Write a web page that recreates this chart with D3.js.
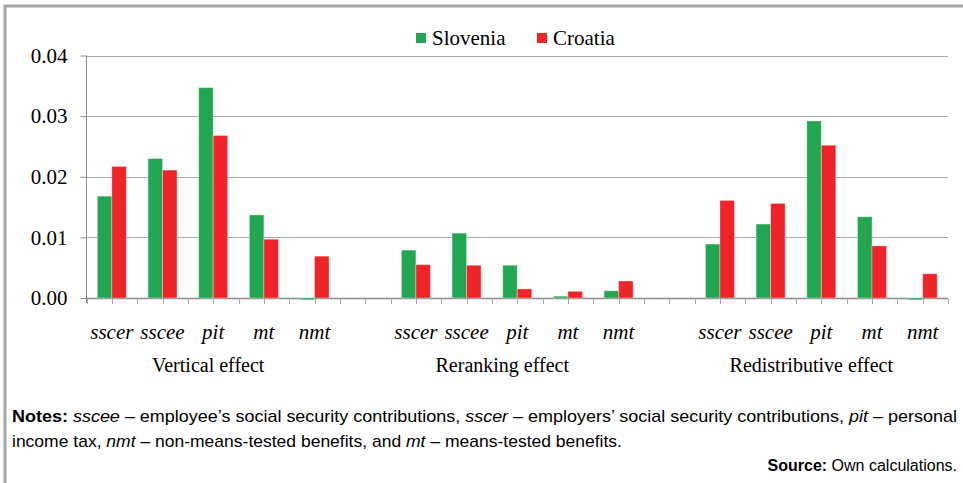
<!DOCTYPE html>
<html>
<head>
<meta charset="utf-8">
<script src="https://cdn.jsdelivr.net/npm/d3@7"></script>
<style>
  body { margin: 0; background: #fff; }
  svg { display: block; }
  .serif { font-family: "Liberation Serif", "Times New Roman", serif; }
  .sans { font-family: "Liberation Sans", Arial, sans-serif; }
</style>
</head>
<body>
<div class="chart"></div>
<script>
// data
var groups = ['Vertical effect', 'Reranking effect', 'Redistributive effect'];
var items = ['sscer', 'sscee', 'pit', 'mt', 'nmt'];
var series = ['Slovenia', 'Croatia'];
var slovenia = [0.0168, 0.0230, 0.0347, 0.0137, -0.0003,
                0.0079, 0.0107, 0.0054, 0.0003, 0.0012,
                0.0089, 0.0122, 0.0292, 0.0134, -0.0003];
var croatia  = [0.0217, 0.0211, 0.0268, 0.0097, 0.0069,
                0.0055, 0.0054, 0.0015, 0.0011, 0.0028,
                0.0161, 0.0156, 0.0252, 0.0086, 0.0040];
var yTicks = [0, 0.01, 0.02, 0.03, 0.04];

var colors = { Slovenia: '#22a651', Croatia: '#ee2428' };

var W = 963, H = 483;
var svg = d3.select('.chart')
  .append('svg')
  .attr('width', W)
  .attr('height', H);

// frame: top and left border
svg.append('path')
  .attr('d', 'M5,' + H + ' V6 H' + W)
  .style('fill', 'none')
  .style('stroke', '#a6a6a6')
  .style('stroke-width', 3);

// 17 slots: 5 items per group with one empty slot between groups
var slots = [];
groups.forEach((g, gi) => {
  items.forEach(it => slots.push(g + '|' + it));
  if (gi < groups.length - 1) slots.push('gap' + gi);
});

var rows = [];
groups.forEach((g, gi) => {
  items.forEach((it, ii) => {
    var k = gi * items.length + ii;
    rows.push({ key: g + '|' + it, item: it, Slovenia: slovenia[k], Croatia: croatia[k] });
  });
});

var xScale = d3.scaleBand().domain(slots).range([86.5, 948]).padding(0);
var bw = xScale.bandwidth();
var pairW = 29;
var sub = d3.scaleBand().domain(series).range([-pairW / 2, pairW / 2]);

var yScale = d3.scaleLinear().domain([0, 0.04]).range([298, 55.5]);

// y axis ticks + labels
var yAxis = svg.append('g')
  .attr('transform', 'translate(86.5,0)')
  .call(d3.axisLeft(yScale).tickValues(yTicks).tickFormat(d3.format('.2f')).tickSize(6).tickPadding(13))
  .attr('font-family', null)
  .attr('font-size', null);
yAxis.select('.domain').remove();
yAxis.selectAll('line').style('stroke', '#8c8c8c');
yAxis.selectAll('text')
  .attr('class', 'serif')
  .style('font-size', '21px')
  .style('fill', '#000');

// gridlines
svg.append('g')
  .selectAll('line')
  .data(yTicks.filter(d => d > 0))
  .enter()
  .append('line')
  .attr('x1', 86.5)
  .attr('x2', 948)
  .attr('y1', d => Math.round(yScale(d)) + 0.5)
  .attr('y2', d => Math.round(yScale(d)) + 0.5)
  .style('stroke', '#a8a8a8')
  .style('stroke-width', 1.2);

svg.append('line')
  .attr('x1', 86.5).attr('x2', 86.5)
  .attr('y1', yScale(0.04)).attr('y2', 303)
  .style('stroke', '#8c8c8c');

// x axis line and ticks at every half slot
svg.append('line')
  .attr('x1', 86.5).attr('x2', 948)
  .attr('y1', 298.5).attr('y2', 298.5)
  .style('stroke', '#8c8c8c')
  .style('stroke-width', 1.3);

var halfTicks = d3.range(slots.length * 2 + 1).map(i => 86.5 + i * bw / 2);
svg.append('g')
  .selectAll('line')
  .data(halfTicks)
  .enter()
  .append('line')
  .attr('x1', d => Math.round(d) + 0.5)
  .attr('x2', d => Math.round(d) + 0.5)
  .attr('y1', 299)
  .attr('y2', 304)
  .style('stroke', '#a8a8a8');

// bars
var bars = svg.append('g');
series.forEach(s => {
  bars.selectAll('.bar-' + s)
    .data(rows)
    .enter()
    .append('rect')
    .attr('class', 'bar-' + s)
    .attr('x', d => xScale(d.key) + bw / 2 + sub(s))
    .attr('width', sub.bandwidth())
    .attr('y', d => yScale(Math.max(0, d[s])))
    .attr('height', d => Math.abs(yScale(d[s]) - yScale(0)))
    .style('fill', colors[s])
    .style('stroke', 'rgba(255,255,255,0.35)')
    .style('stroke-width', 1);
});

// category labels
svg.append('g')
  .selectAll('text')
  .data(rows)
  .enter()
  .append('text')
  .attr('class', 'serif')
  .attr('x', d => xScale(d.key) + bw / 2)
  .attr('y', 339)
  .attr('text-anchor', 'middle')
  .style('font-style', 'italic')
  .style('font-size', '21px')
  .text(d => d.item);

// group labels (sit a little left of the group centre in the original)
var groupShift = [-5, -15, -10];
svg.append('g')
  .selectAll('text')
  .data(groups)
  .enter()
  .append('text')
  .attr('class', 'serif')
  .attr('x', (g, i) => (xScale(g + '|sscer') + xScale(g + '|nmt') + bw) / 2 + groupShift[i])
  .attr('y', 372)
  .attr('text-anchor', 'middle')
  .style('font-size', '20px')
  .text(g => g);

// legend
var legend = svg.append('g');
var legendX = [416, 537];
series.forEach((s, i) => {
  legend.append('rect')
    .attr('x', legendX[i]).attr('y', 33)
    .attr('width', 10).attr('height', 10)
    .style('fill', colors[s]);
  legend.append('text')
    .attr('class', 'serif')
    .attr('x', legendX[i] + 16).attr('y', 45)
    .style('font-size', '21px')
    .text(s);
});

// notes (narrow sans in the original, squeezed to its widths)
function noteLine(parts, x, y, size, len, anchor) {
  var t = svg.append('text')
    .attr('class', 'sans')
    .attr('x', x).attr('y', y)
    .attr('text-anchor', anchor || 'start')
    .style('font-size', size + 'px');
  parts.forEach(p => {
    t.append('tspan')
      .style('font-weight', p[1] === 'b' ? 'bold' : null)
      .style('font-style', p[1] === 'i' ? 'italic' : null)
      .text(p[0]);
  });
  if (len) t.attr('textLength', len).attr('lengthAdjust', 'spacingAndGlyphs');
  return t;
}

noteLine([['Notes:', 'b'], [' '], ['sscee', 'i'], [' \u2013 employee\u2019s social security contributions, '],
  ['sscer', 'i'], [' \u2013 employers\u2019 social security contributions, '], ['pit', 'i'], [' \u2013 personal']],
  12, 422, 17, 945);
noteLine([['income tax, '], ['nmt', 'i'], [' \u2013 non-means-tested benefits, and '], ['mt', 'i'],
  [' \u2013 means-tested benefits.']], 12, 447, 17, 610);
noteLine([['Source:', 'b'], [' Own calculations.']], 957, 471, 16, null, 'end');
</script>
</body>
</html>
